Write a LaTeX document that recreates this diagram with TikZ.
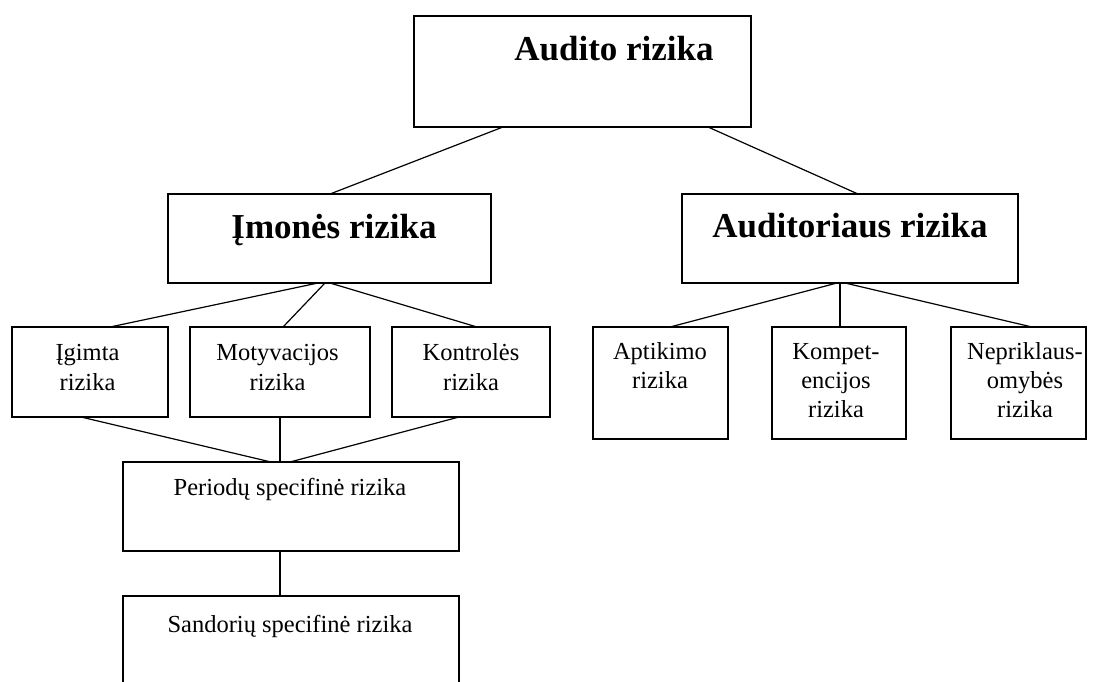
\documentclass[tikz,border=0pt]{standalone}
\usepackage{fontspec}
\setmainfont{Liberation Serif}
\begin{document}
\begin{tikzpicture}[x=1pt,y=-1pt,
  box/.style={draw=black,line width=1.6pt,inner sep=0pt,outer sep=0pt,anchor=north west},
  conn/.style={draw=black,line width=1.2pt},
  head/.style={anchor=base,inner sep=0pt,font=\fontsize{35}{40}\selectfont\bfseries},
  small/.style={anchor=base,inner sep=0pt,font=\fontsize{24.5}{29}\selectfont}]
\clip (0,0) rectangle (1096,681);
\fill[white] (0,0) rectangle (1096,681);
% boxes
\node[box,minimum width=337,minimum height=111] (audit) at (414,16) {};
\node[box,minimum width=323,minimum height=89] (imones) at (168,194) {};
\node[box,minimum width=336,minimum height=89] (auditor) at (682,194) {};
\node[box,minimum width=156,minimum height=90] (igimta) at (12,327) {};
\node[box,minimum width=180,minimum height=90] (motyv) at (190,327) {};
\node[box,minimum width=158,minimum height=90] (kontr) at (392,327) {};
\node[box,minimum width=336,minimum height=89] (period) at (123,462) {};
\node[box,minimum width=336,minimum height=130] (sandor) at (123,596) {};
\node[box,minimum width=135,minimum height=112] (aptik) at (593,327) {};
\node[box,minimum width=134,minimum height=112] (kompet) at (772,327) {};
\node[box,minimum width=135,minimum height=112] (neprik) at (951,327) {};
% texts
\node[head] (tAudit) at (614,60) {Audito rizika};
\node[head] (tImones) at (334,238) {Įmonės rizika};
\node[head] (tAuditor) at (850,237) {Auditoriaus rizika};
\node[small] (tIg1) at (87.5,360) {Įgimta};
\node[small] (tIg2) at (87.5,390) {rizika};
\node[small] (tMo1) at (277.5,360) {Motyvacijos};
\node[small] (tMo2) at (277.5,390) {rizika};
\node[small] (tKo1) at (471,360) {Kontrolės};
\node[small] (tKo2) at (471,390) {rizika};
\node[small] (tPe) at (290,495) {Periodų specifinė rizika};
\node[small] (tSa) at (290,632) {Sandorių specifinė rizika};
\node[small] (tAp1) at (660,359) {Aptikimo};
\node[small] (tAp2) at (660,388) {rizika};
\node[small] (tKm1) at (836,359) {Kompet-};
\node[small] (tKm2) at (836,388) {encijos};
\node[small] (tKm3) at (836,417) {rizika};
\node[small] (tNe1) at (1025,359) {Nepriklaus-};
\node[small] (tNe2) at (1025,388) {omybės};
\node[small] (tNe3) at (1025,417) {rizika};
% connectors
\draw[conn] ([xshift=89]audit.south west) -- ([xshift=162]imones.north west);
\draw[conn] ([xshift=294]audit.south west) -- ([xshift=176]auditor.north west);
\draw[conn] ([xshift=150]imones.south west) -- ([xshift=98]igimta.north west);
\draw[conn] ([xshift=157]imones.south west) -- ([xshift=93]motyv.north west);
\draw[conn] ([xshift=162]imones.south west) -- ([xshift=85]kontr.north west);
\draw[conn] ([xshift=69]igimta.south west) -- ([xshift=148]period.north west);
\draw[conn] ([xshift=90]motyv.south west) -- ([xshift=157]period.north west);
\draw[conn] ([xshift=67]kontr.south west) -- ([xshift=167]period.north west);
\draw[conn] ([xshift=157]period.south west) -- ([xshift=157]sandor.north west);
\draw[conn] ([xshift=155]auditor.south west) -- ([xshift=77]aptik.north west);
\draw[conn] ([xshift=158]auditor.south west) -- ([xshift=68]kompet.north west);
\draw[conn] ([xshift=163]auditor.south west) -- ([xshift=81]neprik.north west);
\end{tikzpicture}
\end{document}
